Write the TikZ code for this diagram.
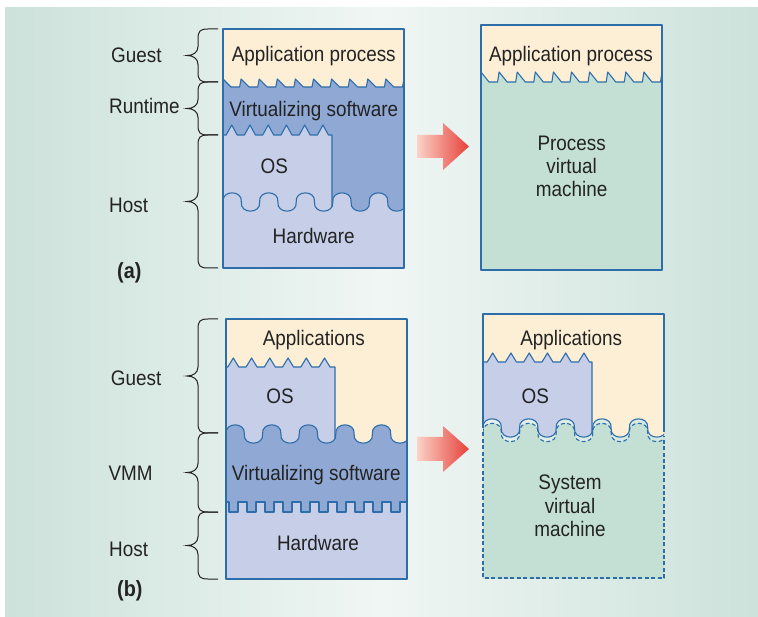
\documentclass[tikz,border=0pt]{standalone}
\usepackage{fontspec}
\setmainfont{Liberation Sans}[FakeStretch=0.9]
\usetikzlibrary{calc}

\definecolor{bgedge}{RGB}{204,226,218}
\definecolor{bgmid}{RGB}{240,246,244}
\definecolor{appfill}{RGB}{253,239,214}
\definecolor{vsfill}{RGB}{143,168,212}
\definecolor{osfill}{RGB}{198,206,232}
\definecolor{vmfill}{RGB}{196,224,212}
\definecolor{edgeblue}{RGB}{45,110,170}
\definecolor{ink}{RGB}{35,35,35}
\definecolor{arrowpale}{RGB}{251,210,200}
\definecolor{arrowred}{RGB}{230,65,58}

% layer boundaries (path pieces)
\newcommand\saw[3]{% first peak x, base y, peak y
  \foreach \k in {0,...,10}{ -- ({#1+18.1*\k+8},#2) -- ({#1+18.1*\k+16.6},#2) -- ({#1+18.1*(\k+1)},#3) }}
\newcommand\teeth[4]{% first peak x, base y, peak y, last index
  \foreach \k in {0,...,#4}{ -- ({#1+18.25*\k-5.5},#2) -- ({#1+18.25*\k},#3) -- ({#1+18.25*\k+5.5},#2) }}
\newcommand\wave[2]{% start x, middle y
  \foreach \k [evaluate=\k as \s using {1-2*mod(\k,2)}] in {0,...,10}
    { .. controls ({#1+18.3*\k-1.5},{#2-\s*12.2}) and ({#1+18.3*(\k+1)+1.5},{#2-\s*12.2}) .. ({#1+18.3*(\k+1)},#2) }}
\newcommand\pulses[3]{% start x, top y, bottom y
  \foreach \k in {0,...,10}{ -- ({#1+18*\k},#2) -- ({#1+18*\k+9},#2) -- ({#1+18*\k+9},#3) -- ({#1+18*\k+18},#3) }}
\newcommand\curly[2]{% top y, bottom y
  (218,#1) -- (208,#1) .. controls (200,#1) and (198,{#1+2}) .. (198,{#1+10})
  -- (198,{(#1+#2)/2-9}) .. controls (198,{(#1+#2)/2-3}) and (193,{(#1+#2)/2}) .. (187,{(#1+#2)/2})
  .. controls (193,{(#1+#2)/2}) and (198,{(#1+#2)/2+3}) .. (198,{(#1+#2)/2+9})
  -- (198,{#2-10}) .. controls (198,{#2-2}) and (200,#2) .. (208,#2) -- (218,#2)}

\begin{document}
\begin{tikzpicture}[x=1pt, y=-1pt,
    % Line and text styles
    edge/.style={draw=edgeblue, line width=1.1pt, line join=round},
    vmedge/.style={edge, dash pattern=on 4pt off 2.4pt},
    txt/.style={font=\fontsize{21}{23.3}\selectfont, text=ink, inner sep=0pt,
                anchor=base, align=center},
    side/.style={txt, anchor=base west},
    tag/.style={side, font=\fontsize{22}{24}\selectfont\bfseries},
    bracket/.style={draw=ink, line width=1pt},
    turnarrow/.style={left color=arrowpale, right color=arrowred}
]

% Page and backdrop
\useasboundingbox (0,0) rectangle (758,617);
\shade[left color=bgedge, right color=bgedge, middle color=bgmid] (5,8) rectangle (758,617);

% (a) host stack
\begin{scope}
\clip (223,29) rectangle (404,268);
\fill[appfill] (223,29) rectangle (404,268);
\fill[vsfill] (223,79) \saw{223}{87}{79} -- (430,79) -- (430,270) -- (223,270) -- cycle;
\draw[edge] (223,79) \saw{223}{87}{79};
\fill[osfill] (223,135) \teeth{231.7}{135}{125}{5} -- (332,135) -- (332,260) -- (223,260) -- cycle;
\draw[edge] (223,135) \teeth{231.7}{135}{125}{5} -- (332,135) -- (332,215);
\fill[osfill] (223,202) \wave{223}{202} -- (430,202) -- (430,270) -- (223,270) -- cycle;
\draw[edge] (223,202) \wave{223}{202};
\end{scope}
\draw[edge] (223,29) rectangle (404,268);

% (a) process virtual machine
\begin{scope}
\clip (481,25) rectangle (662,270);
\fill[vmfill] (481,25) rectangle (662,270);
\fill[appfill] (481,72) \saw{481}{82}{72} -- (700,72) -- (700,10) -- (470,10) -- (470,72) -- cycle;
\draw[edge] (481,72) \saw{481}{82}{72};
\end{scope}
\draw[edge] (481,25) rectangle (662,270);

% (b) host stack
\begin{scope}
\clip (226,319) rectangle (407,579);
\fill[appfill] (226,319) rectangle (407,579);
\fill[osfill] (226,367) \teeth{233.3}{367}{358}{5} -- (335,367) -- (335,450) -- (226,450) -- cycle;
\draw[edge] (226,367) \teeth{233.3}{367}{358}{5} -- (335,367) -- (335,440);
\fill[vsfill] (226,434) \wave{226}{434} -- (430,434) -- (430,590) -- (226,590) -- cycle;
\draw[edge] (226,434) \wave{226}{434};
\fill[osfill] (220,512) \pulses{220}{502}{512} -- (430,512) -- (430,590) -- (220,590) -- cycle;
\draw[edge] (220,512) \pulses{220}{502}{512};
\end{scope}
\draw[edge] (226,319) rectangle (407,579);

% (b) system virtual machine
\begin{scope}
\clip (483,314) rectangle (664,578);
\fill[vmfill] (483,432.5) \wave{483}{432.5} -- (700,432.5) -- (700,590) -- (470,590) -- cycle;
\draw[vmedge] (483,432.5) \wave{483}{432.5};
\begin{scope}
\clip (483,428) \wave{483}{428} -- (700,428) -- (700,300) -- (470,300) -- (470,428) -- cycle;
\fill[appfill] (470,300) rectangle (700,460);
\fill[osfill] (483,362) \teeth{492.7}{362}{353}{5} -- (592,362) -- (592,460) -- (470,460) -- cycle;
\draw[edge] (483,362) \teeth{492.7}{362}{353}{5} -- (592,362) -- (592,460);
\end{scope}
\draw[edge] (483,428) \wave{483}{428};
\end{scope}
\draw[edge] (483,428) -- (483,314) -- (664,314) -- (664,432);
\draw[vmedge] (483,432.5) -- (483,578) -- (664,578) -- (664,436);

% Arrows between the columns
\shade[turnarrow] (417,135) -- (443,135) -- (443,123) -- (469,146.5) -- (443,170) -- (443,158) -- (417,158) -- cycle;
\shade[turnarrow] (417,437) -- (443,437) -- (443,426) -- (469,449) -- (443,472) -- (443,461) -- (417,461) -- cycle;

% Texts in (a)
\node[txt] (appA) at (313.8,61.5) {Application process};
\node[txt] (vsA) at (313.8,116.3) {Virtualizing software};
\node[txt] (osA) at (274.3,173.3) {OS};
\node[txt] (hwA) at (313.7,243.3) {Hardware};
\node[txt] (appVM) at (571,61.7) {Application process};
\node[txt, anchor=center] (pvm) at (571.7,166.2) {Process\\virtual\\machine};

% Texts in (b)
\node[txt] (appB) at (313.8,346) {Applications};
\node[txt] (osB) at (280,404) {OS};
\node[txt] (vsB) at (316.2,480) {Virtualizing software};
\node[txt] (hwB) at (318,550.7) {Hardware};
\node[txt] (appSys) at (571.2,346) {Applications};
\node[txt] (osSys) at (535.3,404) {OS};
\node[txt, anchor=center] (svm) at (570,505.8) {System\\virtual\\machine};

% Side labels and braces
\node[side] (guestA) at (111,62.7) {Guest};
\node[side] (runtime) at (109,113.3) {Runtime};
\node[side] (hostA) at (109,212.7) {Host};
\node[tag] (tagA) at (117,279) {(a)};
\node[side] (guestB) at (110.7,386) {Guest};
\node[side] (vmm) at (108.3,481) {VMM};
\node[side] (hostB) at (109,556.7) {Host};
\node[tag] (tagB) at (117,596) {(b)};

\draw[bracket] \curly{29}{82};
\draw[bracket] \curly{82}{135};
\draw[bracket] \curly{135}{268};
\draw[bracket] \curly{319}{433};
\draw[bracket] \curly{433}{512};
\draw[bracket] \curly{512}{579};

\end{tikzpicture}
\end{document}
